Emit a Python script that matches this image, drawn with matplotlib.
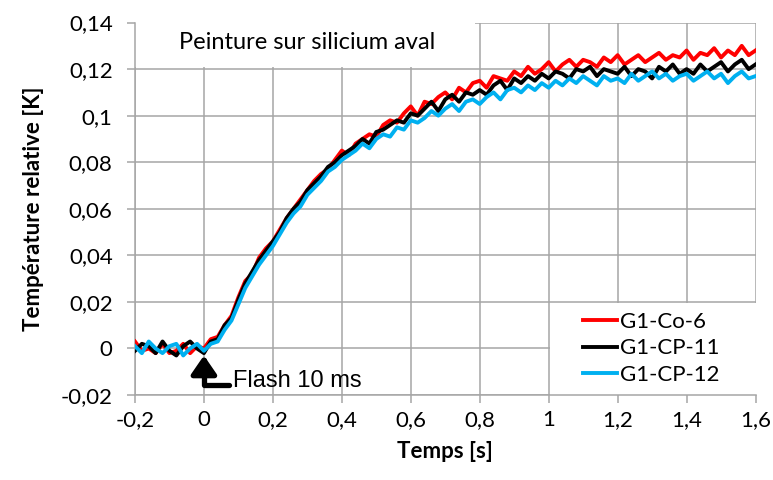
import numpy as np
import matplotlib
matplotlib.use("Agg")
import matplotlib.pyplot as plt
from matplotlib.patches import Rectangle
from matplotlib.ticker import FuncFormatter, MultipleLocator

plt.rcParams['font.family'] = ['Lato', 'DejaVu Sans']

# temps [s], pas de 0,02 s
temps = np.round(np.arange(-0.2, 1.6001, 0.02), 2)

g1_co_6 = [
    0.003, -0.001, 0.000, -0.002, 0.002, -0.002, -0.001, 0.002, -0.002, 0.001,
    0.000, 0.004, 0.005, 0.010, 0.014, 0.022, 0.029, 0.032, 0.039, 0.043,
    0.046, 0.051, 0.056, 0.060, 0.064, 0.068, 0.072, 0.075, 0.077, 0.081,
    0.085, 0.083, 0.088, 0.090, 0.092, 0.091, 0.096, 0.098, 0.097, 0.101,
    0.104, 0.100, 0.106, 0.105, 0.108, 0.110, 0.107, 0.112, 0.110, 0.114,
    0.115, 0.112, 0.117, 0.116, 0.115, 0.119, 0.117, 0.121, 0.118, 0.120,
    0.123, 0.119, 0.122, 0.124, 0.121, 0.124, 0.123, 0.121, 0.125, 0.123,
    0.126, 0.122, 0.124, 0.126, 0.123, 0.125, 0.127, 0.124, 0.126, 0.125,
    0.128, 0.124, 0.127, 0.126, 0.129, 0.125, 0.128, 0.126, 0.130, 0.126,
    0.128]

g1_cp_11 = [
    -0.001, 0.002, 0.001, -0.002, 0.003, -0.001, -0.003, 0.001, 0.003, 0.000,
    -0.002, 0.003, 0.004, 0.010, 0.013, 0.021, 0.028, 0.033, 0.038, 0.042,
    0.046, 0.050, 0.056, 0.060, 0.063, 0.068, 0.071, 0.074, 0.078, 0.080,
    0.083, 0.085, 0.087, 0.090, 0.088, 0.093, 0.094, 0.096, 0.098, 0.097,
    0.101, 0.100, 0.103, 0.106, 0.102, 0.107, 0.109, 0.106, 0.110, 0.109,
    0.111, 0.109, 0.113, 0.115, 0.111, 0.116, 0.114, 0.117, 0.115, 0.118,
    0.116, 0.119, 0.118, 0.116, 0.120, 0.119, 0.121, 0.117, 0.120, 0.119,
    0.118, 0.121, 0.117, 0.120, 0.119, 0.116, 0.121, 0.119, 0.122, 0.118,
    0.120, 0.118, 0.122, 0.119, 0.121, 0.123, 0.119, 0.122, 0.124, 0.120,
    0.122]

g1_cp_12 = [
    0.001, -0.002, 0.003, 0.000, -0.002, 0.001, 0.002, -0.003, 0.000, 0.002,
    -0.001, 0.002, 0.003, 0.008, 0.012, 0.019, 0.026, 0.031, 0.036, 0.040,
    0.044, 0.049, 0.054, 0.058, 0.061, 0.066, 0.069, 0.072, 0.076, 0.078,
    0.081, 0.083, 0.085, 0.088, 0.086, 0.090, 0.092, 0.091, 0.095, 0.094,
    0.098, 0.097, 0.099, 0.102, 0.100, 0.103, 0.105, 0.102, 0.106, 0.107,
    0.105, 0.108, 0.110, 0.107, 0.111, 0.112, 0.110, 0.113, 0.111, 0.114,
    0.112, 0.115, 0.113, 0.116, 0.114, 0.117, 0.115, 0.113, 0.117, 0.115,
    0.116, 0.114, 0.118, 0.115, 0.117, 0.119, 0.116, 0.118, 0.115, 0.117,
    0.118, 0.115, 0.117, 0.119, 0.116, 0.118, 0.114, 0.117, 0.119, 0.116,
    0.117]

series = [("G1-Co-6", g1_co_6, "#FF0000"),
          ("G1-CP-11", g1_cp_11, "#000000"),
          ("G1-CP-12", g1_cp_12, "#00B0F0")]

fig, ax = plt.subplots(figsize=(7.73, 4.8), dpi=100)
plt.subplots_adjust(left=0.1746, right=0.9774, top=0.953, bottom=0.177)

for nom, y, c in series:
    ax.plot(temps, y, color=c, lw=2.8, label=nom, zorder=3)

ax.set_xlim(-0.2, 1.6)
ax.set_ylim(-0.02, 0.14)
ax.xaxis.set_major_locator(MultipleLocator(0.2))
ax.yaxis.set_major_locator(MultipleLocator(0.02))

virgule = FuncFormatter(lambda v, p: ("%g" % round(v, 4)).replace(".", ","))
ax.xaxis.set_major_formatter(virgule)
ax.yaxis.set_major_formatter(virgule)

grille = "#A6A6A6"
ax.grid(True, color=grille, lw=1.1, zorder=0)
ax.set_axisbelow(True)
for s in ["top", "right"]:
    ax.spines[s].set_visible(False)
for s in ["left", "bottom"]:
    ax.spines[s].set_color(grille)
    ax.spines[s].set_linewidth(1.1)
ax.tick_params(axis="both", colors=grille, labelcolor="black", labelsize=16,
               length=6, width=1.1)
ax.tick_params(axis="y", pad=10)
ax.tick_params(axis="x", pad=5)

ax.set_xlabel("Temps [s]", fontsize=16, fontweight="bold", labelpad=8)
ax.set_ylabel("Température relative [K]", fontsize=16, fontweight="bold", labelpad=12)

# cadre du titre
ax.add_patch(Rectangle((-0.2, 0.1208), 0.985, 0.0192, facecolor="white",
                       edgecolor="none", zorder=2))
ax.text(0.3, 0.1315, "Peinture sur silicium aval", fontsize=17, ha="center",
        va="center", zorder=4)

# cadre de la légende
ax.add_patch(Rectangle((1.003, -0.0199), 0.597, 0.0396, facecolor="white",
                       edgecolor="none", zorder=2))

# flèche du flash
ax.annotate("", xy=(0.0, -0.003), xytext=(0.072, -0.0158),
            arrowprops=dict(arrowstyle="-|>,head_width=0.55,head_length=0.8",
                            connectionstyle="angle,angleA=0,angleB=90,rad=0",
                            color="black", lw=3.8, shrinkA=0, shrinkB=0,
                            mutation_scale=14), zorder=5)
ax.text(0.085, -0.0138, "Flash 10 ms", fontsize=17,
        family=["Liberation Sans", "DejaVu Sans"], va="center", ha="left",
        zorder=5)

leg = ax.legend(loc="center left", bbox_to_anchor=(0.722, 0.125),
                borderaxespad=0, borderpad=0, fontsize=16, frameon=False,
                handlelength=1.55, handletextpad=0.12, labelspacing=0.3)
leg.set_zorder(6)

fig.savefig("out.png", dpi=100)
